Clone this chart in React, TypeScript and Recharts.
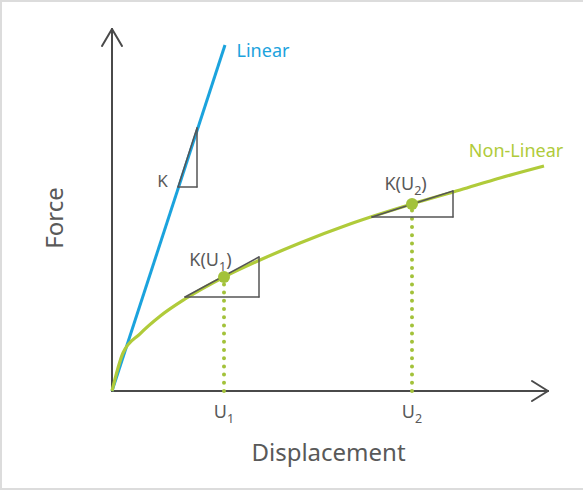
import React from 'react';
import { ComposedChart, Line, XAxis, YAxis, ReferenceLine, ReferenceDot } from 'recharts';

// force vs displacement, arbitrary units
const linearDisp = [0, 28.25];
const linearForce = [0, 86.5];
const curveDisp = [0, 2.75, 7, 12, 18.25, 28, 37, 47, 59.5, 75, 87, 97, 108];
const curveForce = [0, 9.5, 14.3, 18.7, 23, 28.5, 32.75, 37, 41.75, 46.75, 50.25, 53.25, 56.25];

// the two sample displacements and the force at each
const uDisp = [28, 75];
const uForce = [28.5, 46.75];
const uNames = ['1', '2'];

// slope triangles: [start disp, start force, end disp, end force]
const kTri = [16.5, 51, 21.25, 65.75];
const u1Tri = [18.25, 23.5, 36.75, 33.5];
const u2Tri = [65, 43.5, 85.25, 50];

const xEnd = 109;
const yEnd = 90.5;

const linearData = linearDisp.map((x, i) => ({ x, y: linearForce[i] }));
const curveData = curveDisp.map((x, i) => ({ x, y: curveForce[i] }));

const FONT = '"Noto Sans", sans-serif';
const BLUE = '#1ba3dd';
const GREEN = '#b0cb3a';
const DOT_GREEN = '#a3c23a';
const AXIS = '#4a4a4a';
const TRI = '#555555';
const TEXT = '#595959';

const note = (pre: string, sub: string, post: string, color: string, size: number) => (p: any) => (
  <text x={p.cx} y={p.cy + size * 0.36} textAnchor="middle" fill={color} fontSize={size} fontFamily={FONT}>
    {pre}
    {sub && (
      <tspan fontSize={size * 0.7} dy={size * 0.3}>
        {sub}
      </tspan>
    )}
    {sub && post && <tspan dy={-size * 0.3}>{post}</tspan>}
  </text>
);

const UTick = (p: any) => {
  const i = uDisp.indexOf(p.payload.value);
  return (
    <text x={p.x} y={p.y + 11} textAnchor="middle" fill={TEXT} fontSize={18} fontFamily={FONT}>
      U
      <tspan fontSize={12.5} dy={5}>
        {uNames[i]}
      </tspan>
    </text>
  );
};

const xTitle = (p: any) => {
  const vb = p.viewBox;
  return (
    <text x={vb.x + 236.5} y={vb.y + 54} textAnchor="middle" fill={TEXT} fontSize={24} fontFamily={FONT}>
      Displacement
    </text>
  );
};

const yTitle = (p: any) => {
  const vb = p.viewBox;
  const x = vb.x + 63;
  const y = vb.y + 191;
  return (
    <text x={x} y={y} transform={`rotate(-90, ${x}, ${y})`} textAnchor="middle" fill={TEXT} fontSize={24} fontFamily={FONT}>
      Force
    </text>
  );
};

const seg = (a: number, b: number, c: number, d: number, color: string, w: number, key: string, extra: any = {}) => (
  <ReferenceLine
    key={key}
    segment={[{ x: a, y: b }, { x: c, y: d }]}
    stroke={color}
    strokeWidth={w}
    strokeLinecap="round"
    {...extra}
  />
);

const triangle = (t: number[], key: string) => [
  seg(t[0], t[1], t[2], t[1], TRI, 1.5, key + 'h'),
  seg(t[2], t[1], t[2], t[3], TRI, 1.5, key + 'v'),
  seg(t[0], t[1], t[2], t[3], TRI, 1.5, key + 'd'),
];

export default function App() {
  return (
    <div style={{ position: 'absolute', left: 0, top: 0, width: 583, height: 490, background: '#fff' }}>
      <ComposedChart width={583} height={490} margin={{ top: 27, right: 31, left: 0, bottom: 0 }}>
        <XAxis
          type="number"
          dataKey="x"
          domain={[-5, 110]}
          ticks={uDisp}
          tick={<UTick />}
          tickSize={0}
          tickMargin={0}
          axisLine={false}
          tickLine={false}
          height={83}
          label={{ content: xTitle }}
        />
        <YAxis
          type="number"
          dataKey="y"
          domain={[-4, 91]}
          width={92}
          tick={false}
          axisLine={false}
          tickLine={false}
          label={{ content: yTitle }}
        />

        {/* axes with arrow heads */}
        {seg(0, 0, 0, yEnd, AXIS, 2, 'ya')}
        {seg(0, yEnd, -2.5, yEnd - 4.25, AXIS, 2, 'ya1')}
        {seg(0, yEnd, 2.5, yEnd - 4.25, AXIS, 2, 'ya2')}
        {seg(0, 0, xEnd, 0, AXIS, 2, 'xa')}
        {seg(xEnd, 0, xEnd - 4, 2.5, AXIS, 2, 'xa1')}
        {seg(xEnd, 0, xEnd - 4, -2.5, AXIS, 2, 'xa2')}

        {/* dotted drops from sample points */}
        {uDisp.map((u, i) =>
          seg(u, 0, u, uForce[i], DOT_GREEN, 4, 'drop' + i, { strokeDasharray: '0 8.2' })
        )}

        <Line data={linearData} dataKey="y" type="linear" stroke={BLUE} strokeWidth={3} dot={false} isAnimationActive={false} />
        <Line data={curveData} dataKey="y" type="monotone" stroke={GREEN} strokeWidth={3.2} dot={false} isAnimationActive={false} />

        {triangle(kTri, 'k')}
        {triangle(u1Tri, 'u1')}
        {triangle(u2Tri, 'u2')}

        {uDisp.map((u, i) => (
          <ReferenceDot key={'pt' + i} x={u} y={uForce[i]} r={6} fill={DOT_GREEN} stroke="none" />
        ))}

        <ReferenceDot x={37.75} y={85} r={1} shape={note('Linear', '', '', BLUE, 18)} />
        <ReferenceDot x={101} y={60.1} r={1} shape={note('Non-Linear', '', '', GREEN, 18)} />
        <ReferenceDot x={12.6} y={52.6} r={1} shape={note('K', '', '', TEXT, 17)} />
        <ReferenceDot x={24.6} y={32.9} r={1} shape={note('K(U', uNames[0], ')', TEXT, 18)} />
        <ReferenceDot x={73.4} y={51.9} r={1} shape={note('K(U', uNames[1], ')', TEXT, 18)} />
      </ComposedChart>
      <div
        style={{
          position: 'absolute',
          inset: 0,
          borderTop: '2px solid #dcdcdc',
          borderLeft: '2px solid #dcdcdc',
          borderBottom: '2px solid #dcdcdc',
          pointerEvents: 'none',
        }}
      />
    </div>
  );
}
